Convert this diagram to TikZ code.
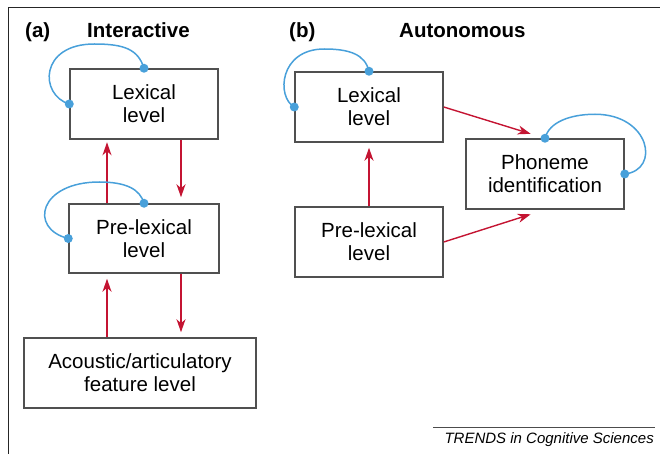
\documentclass[tikz,border=0pt]{standalone}
\usepackage{fontspec}
\setmainfont{Liberation Sans}
\usetikzlibrary{arrows.meta,calc}
\definecolor{boxgray}{RGB}{80,80,80}
\definecolor{arrred}{RGB}{196,20,50}
\definecolor{loopblue}{RGB}{72,160,218}
\tikzset{
  levelbox/.style={draw=boxgray, line width=1.5pt, fill=white, inner sep=0pt,
    align=center, font=\fontsize{20.5}{23}\selectfont},
  flow/.style={draw=arrred, line width=1.4pt, -{Stealth[length=13pt,width=9pt,inset=4pt]}},
  fbloop/.style={draw=loopblue, line width=1.5pt},
  fbdot/.style={fill=loopblue},
  paneltitle/.style={anchor=base west, inner sep=0pt, font=\fontsize{20.5}{24}\selectfont\bfseries},
}
\begin{document}
\begin{tikzpicture}[x=1pt,y=-1pt]
\useasboundingbox (0,0) rectangle (660,454);
% frame
\draw[line width=1.5pt, black!85] (660,7.5) -- (8.5,7.5) -- (8.5,454);
% titles
\node[paneltitle] (ta) at (25,37.5) {(a)};
\node[paneltitle] (tia) at (87,37.5) {Interactive};
\node[paneltitle] (tb) at (289,37.5) {(b)};
\node[paneltitle] (tib) at (399,37.5) {Autonomous};
% (a) boxes
\node[levelbox, minimum width=148pt, minimum height=70pt] (lexA) at (144,104) {Lexical\\level};
\node[levelbox, minimum width=150pt, minimum height=69pt] (preA) at (144,238.5) {Pre-lexical\\level};
\node[levelbox, minimum width=232pt, minimum height=70pt] (acoA) at (140,373) {Acoustic/articulatory\\feature level};
% (b) boxes
\node[levelbox, minimum width=148pt, minimum height=70pt] (lexB) at (369,107) {Lexical\\level};
\node[levelbox, minimum width=148pt, minimum height=70pt] (preB) at (369,242) {Pre-lexical\\level};
\node[levelbox, minimum width=158pt, minimum height=70pt] (phon) at (545,174) {Phoneme\\identification};
% (a) arrows
\draw[flow, shorten >=2.5pt] ([xshift=-37pt]preA.north) -- ([xshift=-37pt]lexA.south);
\draw[flow, shorten >=6pt] ([xshift=37pt]lexA.south) -- ([xshift=37pt]preA.north);
\draw[flow, shorten >=5pt] ([xshift=-33pt]acoA.north) -- ([xshift=-37pt]preA.south);
\draw[flow, shorten >=5pt] ([xshift=37pt]preA.south) -- ([xshift=41pt]acoA.north);
% (b) arrows
\draw[flow, shorten >=5pt] (preB.north) -- (lexB.south);
\draw[flow, shorten >=15pt] (lexB.east) -- (phon.north);
\draw[flow, shorten >=15pt] (preB.east) -- (phon.south);
% feedback loops
\draw[fbloop] (lexA.west) .. controls +(-30,-9) and +(-55,0) .. ++(25,-60)
  .. controls +(30,0) and +(-6,-19) .. (lexA.north);
\draw[fbloop] (preA.west) .. controls +(-40,-10) and +(-60,0) .. ++(31,-56.5)
  .. controls +(27,0) and +(-4,-14) .. (preA.north);
\draw[fbloop] (lexB.west) .. controls +(-18,-10) and +(-45,0) .. ++(30,-58)
  .. controls +(25,0) and +(-4,-17) .. (lexB.north);
\draw[fbloop] (phon.north) .. controls +(4,-16) and +(-25,0) .. ++(50,-24)
  .. controls +(55,0) and +(36,-4) .. (phon.east);
\foreach \n in {lexA,preA,lexB}{
  \fill[fbdot] (\n.west) circle (4.5pt);
  \fill[fbdot] (\n.north) circle (4.5pt);
}
\fill[fbdot] (phon.north) circle (4.5pt);
\fill[fbdot] (phon.east) circle (4.5pt);
% source
\draw[line width=1pt, black!70] (433,427.7) coordinate (srcl) -- (655,427.7) coordinate (srcr);
\node[anchor=base east, inner sep=0pt, font=\fontsize{15}{18}\selectfont\itshape] (src) at (654,443.3) {TRENDS in Cognitive Sciences};
\end{tikzpicture}
\end{document}
